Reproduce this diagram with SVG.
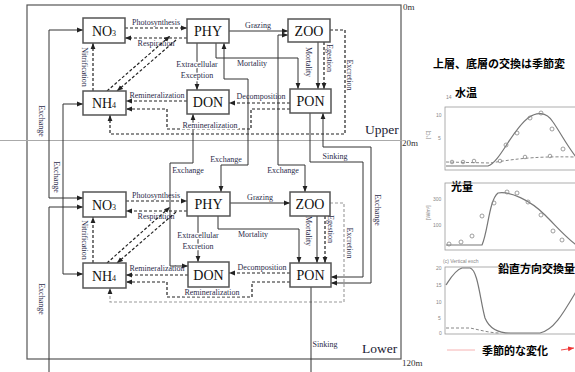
<svg xmlns="http://www.w3.org/2000/svg" width="575" height="372" viewBox="0 0 575 372">
<defs>
<marker id="ah" viewBox="0 0 10 10" refX="10" refY="5" markerWidth="6" markerHeight="6" orient="auto-start-reverse" markerUnits="userSpaceOnUse"><path d="M0,1 L10,5 L0,9 z" fill="#222"/></marker>
<marker id="ahr" viewBox="0 0 10 10" refX="10" refY="5" markerWidth="6" markerHeight="6" orient="auto" markerUnits="userSpaceOnUse"><path d="M0,1 L10,5 L0,9 z" fill="#e33"/></marker>
<style>
.s{fill:none;stroke:#333;stroke-width:1}
.d{fill:none;stroke:#222;stroke-width:1.2;stroke-dasharray:3 2}
.dl{fill:none;stroke:#999;stroke-width:1.1;stroke-dasharray:3 2}
.box rect{fill:#fff;stroke:#555;stroke-width:1.5}
.nt{font-family:"Liberation Serif",serif;font-size:14px;fill:#111;text-anchor:middle}
.lb{font-family:"Liberation Serif",serif;font-size:8px;fill:#2b2b4a;text-anchor:middle}
.hl{paint-order:stroke;stroke:#fff;stroke-width:2.5}
.dep{font-family:"Liberation Serif",serif;font-size:9px;fill:#333}
.ly{font-family:"Liberation Serif",serif;font-size:13.5px;fill:#223}
.jp{font-family:"Noto Sans CJK JP",sans-serif;font-size:11px;font-weight:bold;fill:#000}
.ax{fill:none;stroke:#999;stroke-width:0.8}
.cv{fill:none;stroke:#777;stroke-width:1.2}
.cd{fill:none;stroke:#888;stroke-width:1;stroke-dasharray:3 2}
.pt{fill:none;stroke:#888;stroke-width:0.8}
.tk{font-family:"Liberation Sans",sans-serif;font-size:5px;fill:#888}
</style>
</defs>

<!-- frame -->
<g id="frame">
<rect x="27" y="5" width="374" height="354" fill="none" stroke="#555" stroke-width="1.2"/>
<line x1="0" y1="140.5" x2="402" y2="140.5" stroke="#aaa" stroke-width="1.2"/>
<text class="dep" x="403" y="10">0m</text>
<text class="dep" x="402" y="146">20m</text>
<text class="dep" x="402" y="366">120m</text>
<text class="ly" x="365" y="134">Upper</text>
<text class="ly" x="362" y="353">Lower</text>
</g>

<!-- connectors -->
<g id="connectors">
<!-- upper -->
<path class="d" d="M125,28 L187,28" marker-end="url(#ah)"/>
<path class="d" d="M187,38 L125,38" marker-end="url(#ah)"/>
<path class="d" d="M107,91 L170,36" marker-end="url(#ah)"/>
<path class="d" d="M176,40 L117,91" marker-end="url(#ah)"/>
<path class="d" d="M93,91 L93,43" marker-end="url(#ah)"/>
<path class="d" d="M187,101 L126,101" marker-end="url(#ah)"/>
<path class="d" d="M290,109 L251,109 L251,129 L167,129 L167,109 L126,109" marker-end="url(#ah)"/>
<path class="d" d="M330,30 L345,30 L345,134 L110,134 L110,115" marker-end="url(#ah)"/>
<path class="s" d="M229,31 L288,31" marker-end="url(#ah)"/>
<path class="s" d="M216,43 L216,58 L298,58 L298,89" marker-end="url(#ah)"/>
<path class="s" d="M197,43 L197,90" marker-end="url(#ah)"/>
<path class="s" d="M318,42 L318,89" marker-end="url(#ah)"/>
<path class="d" d="M324,42 L324,89" marker-end="url(#ah)"/>
<path class="d" d="M290,103 L229,103" marker-end="url(#ah)"/>
<!-- exchanges -->
<path class="s" d="M224,43 L224,79 L248,79 L248,165 L221,165 L221,192" marker-start="url(#ah)" marker-end="url(#ah)"/>
<path class="s" d="M193,114 L193,163 L170,163 L170,266 L188,266" marker-start="url(#ah)" marker-end="url(#ah)"/>
<path class="s" d="M288,35 L278,35 L278,165 L305,165 L305,192" marker-start="url(#ah)" marker-end="url(#ah)"/>
<path class="s" d="M310,113 L310,162 L363,162 L363,277 L331,277" marker-end="url(#ah)"/>
<path class="s" d="M323,113 L323,147 L371,147 L371,283 L331,283" marker-start="url(#ah)" marker-end="url(#ah)"/>
<path class="s" d="M83,30 L49,30 L49,198 L83,198" marker-start="url(#ah)" marker-end="url(#ah)"/>
<path class="s" d="M83,104 L63,104 L63,274 L83,274" marker-start="url(#ah)" marker-end="url(#ah)"/>
<path class="s" d="M49,372 L49,207 L83,207" marker-end="url(#ah)"/>
<!-- lower -->
<path class="d" d="M126,201 L187,201" marker-end="url(#ah)"/>
<path class="d" d="M187,211 L126,211" marker-end="url(#ah)"/>
<path class="d" d="M107,263 L170,207" marker-end="url(#ah)"/>
<path class="d" d="M176,212 L117,263" marker-end="url(#ah)"/>
<path class="d" d="M93,263 L93,217" marker-end="url(#ah)"/>
<path class="d" d="M188,275 L126,275" marker-end="url(#ah)"/>
<path class="d" d="M290,282 L252,282 L252,297 L167,297 L167,282 L126,282" marker-end="url(#ah)"/>
<path class="dl" d="M330,203 L344,203 L344,302 L110,302 L110,288" marker-end="url(#ah)"/>
<path class="s" d="M230,203 L290,203" marker-end="url(#ah)"/>
<path class="s" d="M218,216 L218,229 L299,229 L299,263" marker-end="url(#ah)"/>
<path class="s" d="M198,216 L198,262" marker-end="url(#ah)"/>
<path class="s" d="M317,216 L317,263" marker-end="url(#ah)"/>
<path class="d" d="M325,216 L325,263" marker-end="url(#ah)"/>
<path class="d" d="M290,273 L229,273" marker-end="url(#ah)"/>
<path class="s" d="M311,287 L311,372"/>

<!-- labels -->
<text class="lb" x="156" y="25">Photosynthesis</text>
<text class="lb" x="156" y="46">Respiration</text>
<text class="lb" transform="rotate(90 82 67)" x="82" y="67">Nitrification</text>
<text class="lb" x="157" y="98">Remineralization</text>
<text class="lb hl" x="210" y="128">Remineralization</text>
<text class="lb" transform="rotate(90 347 75)" x="347" y="75">Excretion</text>
<text class="lb" x="258" y="28">Grazing</text>
<text class="lb" x="252" y="66">Mortality</text>
<text class="lb hl" x="197" y="67">Extracellular</text>
<text class="lb hl" x="197" y="78">Exception</text>
<text class="lb" transform="rotate(90 306 62)" x="306" y="62">Mortality</text>
<text class="lb" transform="rotate(90 327 58)" x="327" y="58">Egestion</text>
<text class="lb" x="261" y="99">Decomposition</text>
<text class="lb" transform="rotate(90 39 121)" x="39" y="121">Exchange</text>
<text class="lb" transform="rotate(90 54 177)" x="54" y="177">Exchange</text>
<text class="lb" transform="rotate(90 39 299)" x="39" y="299">Exchange</text>
<text class="lb" x="188" y="173">Exchange</text>
<text class="lb" x="226" y="162">Exchange</text>
<text class="lb" x="283" y="173">Exchange</text>
<text class="lb" x="335" y="159">Sinking</text>
<text class="lb" transform="rotate(90 375 210)" x="375" y="210">Exchange</text>
<text class="lb" x="156" y="198">Photosynthesis</text>
<text class="lb" x="156" y="219">Respiration</text>
<text class="lb" transform="rotate(90 82 240)" x="82" y="240">Nitrification</text>
<text class="lb" x="157" y="271">Remineralization</text>
<text class="lb hl" x="212" y="295">Remineralization</text>
<text class="lb" transform="rotate(90 347 243)" x="347" y="243">Excretion</text>
<text class="lb" x="260" y="200">Grazing</text>
<text class="lb" x="253" y="237">Mortality</text>
<text class="lb hl" x="198" y="238">Extracellular</text>
<text class="lb hl" x="198" y="249">Excretion</text>
<text class="lb" transform="rotate(90 306 231)" x="306" y="231">Mortality</text>
<text class="lb" transform="rotate(90 328 229)" x="328" y="229">Egestion</text>
<text class="lb" x="262" y="270">Decomposition</text>
<text class="lb" x="325" y="347">Sinking</text>
</g>

<!-- nodes upper -->
<g id="no3-upper" class="box"><rect x="83" y="18" width="42" height="25"/><text class="nt" x="104" y="36">NO<tspan font-size="8">3</tspan></text></g>
<g id="phy-upper" class="box"><rect x="187" y="19" width="42" height="24"/><text class="nt" x="208" y="36">PHY</text></g>
<g id="zoo-upper" class="box"><rect x="288" y="19" width="42" height="23"/><text class="nt" x="309" y="36">ZOO</text></g>
<g id="nh4-upper" class="box"><rect x="83" y="91" width="43" height="24"/><text class="nt" x="104" y="108">NH<tspan font-size="8">4</tspan></text></g>
<g id="don-upper" class="box"><rect x="187" y="90" width="42" height="24"/><text class="nt" x="208" y="107">DON</text></g>
<g id="pon-upper" class="box"><rect x="290" y="89" width="41" height="24"/><text class="nt" x="310.5" y="106">PON</text></g>
<!-- nodes lower -->
<g id="no3-lower" class="box"><rect x="83" y="192" width="43" height="25"/><text class="nt" x="104" y="210">NO<tspan font-size="8">3</tspan></text></g>
<g id="phy-lower" class="box"><rect x="187" y="192" width="43" height="24"/><text class="nt" x="208.5" y="209">PHY</text></g>
<g id="zoo-lower" class="box"><rect x="290" y="192" width="40" height="24"/><text class="nt" x="310" y="209">ZOO</text></g>
<g id="nh4-lower" class="box"><rect x="83" y="263" width="43" height="25"/><text class="nt" x="104" y="281">NH<tspan font-size="8">4</tspan></text></g>
<g id="don-lower" class="box"><rect x="188" y="262" width="41" height="25"/><text class="nt" x="208.5" y="280">DON</text></g>
<g id="pon-lower" class="box"><rect x="290" y="263" width="41" height="24"/><text class="nt" x="310.5" y="280">PON</text></g>

<!-- right panel -->
<g id="charts">
<text class="jp" x="433" y="68">上層、底層の交換は季節変</text>
<text class="jp" x="455" y="97">水温</text>
<rect class="ax" x="445" y="107" width="140" height="63"/>
<text class="tk" x="446" y="99">14</text>
<text class="tk" x="436" y="117">10</text>
<text class="tk" x="438" y="140">5</text>
<text class="tk" transform="rotate(-90 430 139)" x="430" y="139">[°C]</text>
<path class="cv" d="M446,166 L488,166 C500,162 512,130 528,118 C536,112 546,111 553,122 C562,135 568,148 580,162"/>
<path class="cd" d="M446,162 L490,163 C510,160 530,156 575,157"/>
<g class="pt"><circle cx="506" cy="145" r="2"/><circle cx="517" cy="133" r="2"/><circle cx="530" cy="118" r="2"/><circle cx="541" cy="113" r="2"/><circle cx="552" cy="129" r="2"/><circle cx="563" cy="149" r="2"/><circle cx="452" cy="162" r="1.8"/><circle cx="463" cy="162" r="1.8"/><circle cx="474" cy="161" r="1.8"/><circle cx="500" cy="161" r="1.8"/><circle cx="525" cy="157" r="1.8"/><circle cx="550" cy="156" r="1.8"/></g>

<text class="jp" x="451" y="191">光量</text>
<rect class="ax" x="445" y="183" width="140" height="67"/>
<text class="tk" x="433" y="201">300</text>
<text class="tk" x="433" y="227">100</text>
<text class="tk" transform="rotate(-90 430 220)" x="430" y="220">[W/m²]</text>
<path class="cv" d="M446,245 L482,245 C488,232 489,200 498,193 C510,191 530,200 545,215 C560,230 570,242 582,249"/>
<g class="pt"><circle cx="449" cy="244" r="2"/><circle cx="461" cy="242" r="2"/><circle cx="472" cy="236" r="2"/><circle cx="482" cy="216" r="2"/><circle cx="494" cy="203" r="2"/><circle cx="507" cy="192" r="2"/><circle cx="517" cy="193" r="2"/><circle cx="528" cy="202" r="2"/><circle cx="541" cy="215" r="2"/><circle cx="553" cy="231" r="2"/><circle cx="562" cy="240" r="2"/></g>

<text class="tk" x="443" y="263">(c) Vertical exch</text>
<rect class="ax" x="445" y="267" width="140" height="67"/>
<text class="jp" x="498" y="273">鉛直方向交換量</text>
<text class="tk" x="436" y="270">20</text>
<text class="tk" x="436" y="287">15</text>
<text class="tk" x="436" y="304">10</text>
<text class="tk" x="438" y="320">5</text>
<text class="tk" x="439" y="335">0</text>
<path class="cv" d="M446,285 C450,279 455,270 462,268 L470,268 C478,270 480,300 485,318 C490,330 500,333 510,333 L540,333 C555,330 565,310 580,285"/>
<path class="cd" d="M446,328 L470,328 C480,330 490,333 500,333"/>

<text class="jp" x="482" y="355">季節的な変化</text>
<line x1="447" y1="350" x2="475" y2="350" stroke="#f4a0a0" stroke-width="0.8"/>
<line x1="561" y1="350" x2="574" y2="348" stroke="#e33" stroke-width="0.9" marker-end="url(#ahr)"/>
</g>
</svg>
